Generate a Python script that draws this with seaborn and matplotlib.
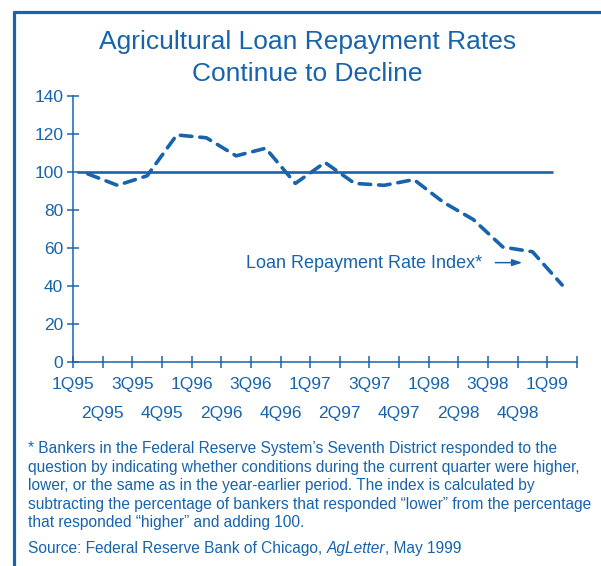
import numpy as np
import pandas as pd
import seaborn as sns
import matplotlib.pyplot as plt
from matplotlib.lines import Line2D

# quarterly index values, 1Q95 .. 1Q99
quarters = ['1Q95', '2Q95', '3Q95', '4Q95', '1Q96', '2Q96', '3Q96', '4Q96',
            '1Q97', '2Q97', '3Q97', '4Q97', '1Q98', '2Q98', '3Q98', '4Q98', '1Q99']
index_values = [99, 93, 98, 119.5, 118, 108.5, 112.5, 94,
                105, 94, 93, 96, 84, 75, 60.5, 58, 40.5]
baseline = 100
yticks = [0, 20, 40, 60, 80, 100, 120, 140]

blue = '#1764ad'

sns.set_style('white')
plt.rcParams['font.family'] = ['Liberation Sans', 'DejaVu Sans']

df = pd.DataFrame({'quarter': quarters, 'index': index_values})
df['pos'] = np.arange(len(df)) + 0.5   # points sit between the ticks

fig = plt.figure(figsize=(6.01, 5.66), dpi=100)
ax = fig.add_axes([73 / 601, 1 - 362 / 566, 504 / 601, 266 / 566])

sns.lineplot(data=df, x='pos', y='index', ax=ax, color=blue, linewidth=2.6,
             linestyle=(0, (3.2, 2.2)), dash_capstyle='round', solid_capstyle='round')
ax.hlines(baseline, 0.13, 16.2, color=blue, linewidth=1.9)

ax.set_xlim(0, len(quarters))
ax.set_ylim(0, 140)
ax.set_yticks(yticks)

# staggered labels: even quarters on major ticks, odd ones on minor ticks
n = len(quarters)
ax.set_xticks(np.arange(0, n, 2))
ax.set_xticklabels(quarters[0::2])
ax.set_xticks(np.arange(1, n + 1, 2), minor=True)
ax.set_xticklabels(quarters[1::2] + [''], minor=True)
ax.set_xlabel('')
ax.set_ylabel('')

sns.despine(ax=ax)
for s in ['left', 'bottom']:
    ax.spines[s].set_color(blue)
    ax.spines[s].set_linewidth(1.1)
ax.tick_params(which='both', bottom=True, left=True, direction='inout', length=8,
               width=1.1, color=blue, labelcolor=blue, labelsize=12.5)
ax.tick_params(axis='x', which='major', pad=7)
ax.tick_params(axis='x', which='minor', pad=28)
ax.tick_params(axis='y', pad=3)

ax.text(13.82, 51.8, 'Loan Repayment Rate Index*', ha='right', va='center',
        fontsize=13, color=blue)
ax.annotate('', xy=(15.25, 52.3), xytext=(14.15, 52.3),
            arrowprops=dict(arrowstyle='-|>,head_length=0.6,head_width=0.2',
                            color=blue, lw=1.1))

fig.text(0.512, 1 - 42 / 566, 'Agricultural Loan Repayment Rates', ha='center',
         va='center', fontsize=19, color=blue)
fig.text(0.512, 1 - 74 / 566, 'Continue to Decline', ha='center',
         va='center', fontsize=19, color=blue)

note = ("* Bankers in the Federal Reserve System\u2019s Seventh District responded to the\n"
        "question by indicating whether conditions during the current quarter were higher,\n"
        "lower, or the same as in the year-earlier period. The index is calculated by\n"
        "subtracting the percentage of bankers that responded \u201clower\u201d from the percentage\n"
        "that responded \u201chigher\u201d and adding 100.")
fig.text(28 / 601, 1 - 441 / 566, note, ha='left', va='top', fontsize=11.2,
         color=blue, linespacing=1.3)

# source line, with the publication name in italics
fig.canvas.draw()
renderer = fig.canvas.get_renderer()
x = 28 / 601
sy = 1 - 548 / 566
for piece, style in [('Source: Federal Reserve Bank of Chicago, ', 'normal'),
                     ('AgLetter', 'italic'), (', May 1999', 'normal')]:
    t = fig.text(x, sy, piece, ha='left', va='center', fontsize=11.2,
                 color=blue, style=style)
    bb = t.get_window_extent(renderer)
    x += bb.width / fig.bbox.width

# frame on the left and top
fx = 13.5 / 601
fy = 1 - 11.5 / 566
fig.add_artist(Line2D([fx, fx], [-0.01, fy], color=blue, lw=2.3))
fig.add_artist(Line2D([fx, 1.01], [fy, fy], color=blue, lw=2.3))

fig.savefig('out.png', dpi=100)
